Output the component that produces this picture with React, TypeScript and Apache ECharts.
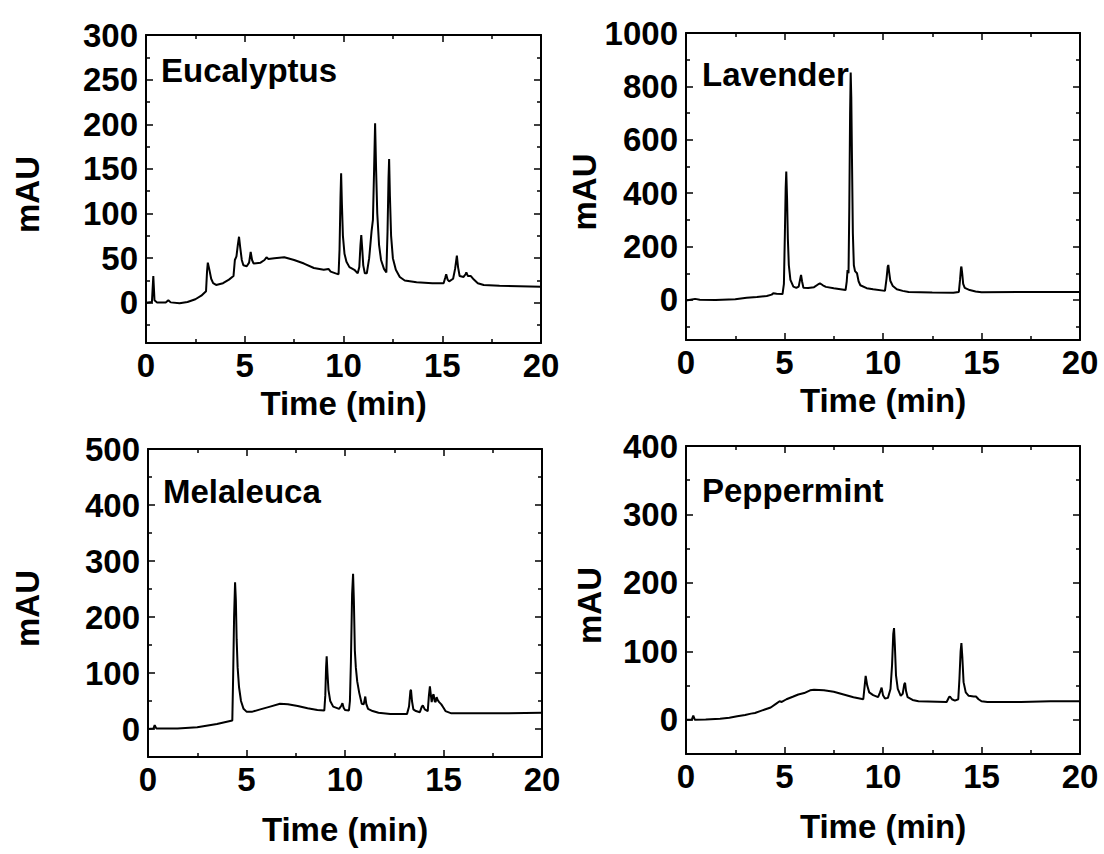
import React, { useEffect, useRef } from "react";
import * as echarts from "echarts";

const panelNames = ["Eucalyptus", "Lavender", "Melaleuca", "Peppermint"];
const yAxisTitle = "mAU";
const xAxisTitle = "Time (min)";

const eucalyptusTime = [0, 0.3, 0.37, 0.43, 0.55, 1.0, 1.13, 1.25, 1.7, 2.1, 2.5, 2.8, 3.04, 3.09, 3.13, 3.2, 3.3, 3.4, 3.55, 3.9, 4.2, 4.43, 4.5, 4.58, 4.65, 4.71, 4.77, 4.85, 4.93, 5.1, 5.22, 5.3, 5.37, 5.45, 5.8, 6.0, 6.1, 6.2, 6.5, 7.0, 7.5, 8.0, 8.5, 9.0, 9.24, 9.35, 9.6, 9.75, 9.8, 9.85, 9.88, 9.92, 9.97, 10.05, 10.15, 10.3, 10.55, 10.72, 10.8, 10.86, 10.9, 10.95, 11.0, 11.08, 11.18, 11.3, 11.42, 11.49, 11.55, 11.6, 11.65, 11.71, 11.8, 11.9, 12.05, 12.17, 12.23, 12.28, 12.31, 12.35, 12.41, 12.5, 12.65, 12.85, 13.1, 13.7, 14.5, 15.07, 15.15, 15.2, 15.27, 15.35, 15.55, 15.65, 15.74, 15.8, 15.88, 16.08, 16.18, 16.22, 16.3, 16.45, 16.6, 16.8, 17.1, 17.9, 20];
const eucalyptusMAU = [0, 1, 30, 3, 0.5, 0.5, 3, 0.5, -0.5, 1, 4, 8, 13, 35, 45, 38, 27, 22, 20, 22, 26, 30, 48, 52, 65, 74, 62, 48, 42, 41, 45, 57, 48, 44, 45, 48, 51, 49, 50, 51, 48, 44, 39, 37, 38, 35, 33, 32, 60, 120, 145, 110, 75, 55, 46, 40, 37, 33, 40, 65, 76, 60, 42, 33, 33, 50, 80, 93, 150, 201, 150, 100, 65, 48, 38, 34, 80, 140, 161, 120, 75, 50, 37, 29, 25, 23, 22, 22, 28, 32, 26, 24, 27, 38, 53, 40, 30, 29, 32, 34, 30, 30, 26, 22, 20, 19, 18];

const lavenderTime = [0, 0.3, 0.46, 0.7, 1.5, 2.5, 3.08, 3.6, 4.1, 4.35, 4.43, 4.6, 4.9, 4.97, 5.02, 5.06, 5.09, 5.13, 5.17, 5.22, 5.3, 5.45, 5.6, 5.72, 5.8, 5.84, 5.89, 5.96, 6.2, 6.5, 6.7, 6.8, 6.95, 7.1, 7.5, 8.1, 8.16, 8.2, 8.25, 8.29, 8.33, 8.36, 8.39, 8.43, 8.47, 8.52, 8.58, 8.68, 8.76, 8.85, 9.17, 9.5, 10.1, 10.18, 10.24, 10.27, 10.31, 10.37, 10.5, 10.7, 11.0, 11.3, 12.5, 13.57, 13.85, 13.91, 13.96, 13.98, 14.02, 14.07, 14.15, 14.4, 14.7, 15.0, 20];
const lavenderMAU = [-2, 2, 4, 1, 0, 3, 8, 11, 15, 20, 25, 23, 22, 60, 250, 420, 481, 380, 230, 130, 75, 50, 45, 50, 80, 94, 70, 46, 45, 48, 58, 62, 55, 49, 44, 37, 70, 112, 100, 350, 700, 852, 760, 500, 250, 130, 108, 100, 70, 55, 44, 40, 34, 80, 125, 131, 105, 72, 52, 40, 34, 30, 28, 27, 30, 75, 120, 125, 100, 60, 45, 37, 32, 29, 30];

const melaleucaTime = [0, 0.28, 0.34, 0.42, 1.5, 2.5, 3.5, 4.28, 4.32, 4.37, 4.42, 4.46, 4.5, 4.55, 4.62, 4.72, 4.85, 5.0, 5.3, 5.7, 6.2, 6.7, 7.1, 7.6, 8.1, 8.6, 8.95, 9.0, 9.04, 9.07, 9.11, 9.16, 9.25, 9.4, 9.7, 9.82, 9.87, 9.93, 10.0, 10.2, 10.25, 10.3, 10.36, 10.41, 10.45, 10.5, 10.55, 10.62, 10.72, 10.85, 10.95, 11.03, 11.08, 11.17, 11.4, 11.7, 12.3, 13.15, 13.25, 13.32, 13.35, 13.4, 13.47, 13.6, 13.8, 13.9, 13.95, 14.05, 14.2, 14.26, 14.31, 14.36, 14.4, 14.46, 14.5, 14.55, 14.6, 14.65, 14.7, 14.78, 14.89, 15.0, 15.1, 15.4, 18.3, 20];
const melaleucaMAU = [0, 1, 7, 1, 1, 3, 9, 15, 90, 200, 262, 230, 160, 110, 75, 50, 36, 31, 31, 35, 40, 45, 44, 41, 37, 34, 33, 60, 110, 130, 100, 70, 50, 40, 36, 42, 46, 38, 34, 33, 50, 120, 240, 277, 230, 140, 110, 85, 65, 45, 44, 58, 45, 36, 32, 29, 27, 27, 40, 68, 70, 50, 35, 32, 30, 40, 42, 35, 32, 60, 76, 60, 48, 60, 62, 50, 48, 57, 52, 48, 44, 38, 32, 28, 28, 29];

const peppermintTime = [0, 0.3, 0.37, 0.45, 1.0, 1.73, 2.2, 2.6, 3.0, 3.3, 3.5, 3.8, 4.0, 4.3, 4.6, 4.75, 4.86, 5.1, 5.45, 5.7, 6.0, 6.3, 6.5, 7.0, 7.5, 8.0, 8.5, 9.0, 9.07, 9.12, 9.2, 9.3, 9.5, 9.75, 9.85, 9.93, 10.0, 10.1, 10.25, 10.38, 10.46, 10.52, 10.56, 10.6, 10.66, 10.75, 10.9, 11.0, 11.08, 11.12, 11.17, 11.25, 11.5, 11.8, 13.23, 13.35, 13.4, 13.5, 13.65, 13.82, 13.88, 13.94, 13.98, 14.03, 14.09, 14.2, 14.35, 14.6, 14.72, 14.85, 15.0, 15.3, 17.0, 18.5, 20];
const peppermintMAU = [0, 0.5, 6, 0, 0.5, 1.5, 3, 5, 7, 9, 10, 13, 15, 18, 24, 27, 26, 30, 34, 37, 39, 43, 44, 43, 41, 37, 33, 30, 50, 64, 50, 40, 36, 33, 40, 47, 36, 31, 32, 45, 80, 125, 134, 110, 65, 45, 35, 38, 52, 54, 42, 33, 29, 27, 26, 33, 34, 30, 28, 30, 60, 100, 112, 90, 55, 40, 35, 34, 34, 30, 27, 26, 26, 27, 27];

const yMins = [-45, -150, -50, -50];
const yMaxs = [300, 1000, 500, 400];
const xMin = 0;
const xMax = 20;

const FONT = "'Liberation Sans', Arial, Helvetica, sans-serif";

export default function App() {
  const ref = useRef<HTMLDivElement>(null);
  useEffect(() => {
    if (!ref.current) return;
    const chart = echarts.init(ref.current, undefined, { renderer: "svg" });
    const grids = [
      { left: 146, top: 35, width: 395, height: 308 },
      { left: 686, top: 33, width: 394, height: 307 },
      { left: 148, top: 449, width: 394, height: 308 },
      { left: 686, top: 446, width: 394, height: 308 },
    ];
    const yNameGaps = [102, 80, 104, 80];
    const xNameGaps = [44, 44, 56, 56];
    const times = [eucalyptusTime, lavenderTime, melaleucaTime, peppermintTime];
    const values = [eucalyptusMAU, lavenderMAU, melaleucaMAU, peppermintMAU];
    const titlePos = [
      { x: 161, y: 70 },
      { x: 702, y: 74 },
      { x: 163, y: 491 },
      { x: 702, y: 490 },
    ];

    const axisLine = { show: true, onZero: false, lineStyle: { color: "#000", width: 2 } };
    const axisTick = { show: true, inside: true, length: 7, lineStyle: { color: "#000", width: 1.5 } };
    const minorTick = { show: true, splitNumber: 2, length: 4, lineStyle: { color: "#000", width: 1.5 } };
    const labelStyle = { color: "#000", fontFamily: FONT, fontWeight: "bold" as const, fontSize: 33 };
    const plain = (v: number) => String(v);

    const xAxes: any[] = [];
    const yAxes: any[] = [];
    const series: any[] = [];
    grids.forEach((g, i) => {
      xAxes.push({
        type: "value", gridIndex: i, position: "bottom", min: xMin, max: xMax,
        axisLine, axisTick, minorTick, splitLine: { show: false },
        axisLabel: { ...labelStyle, margin: 6, showMinLabel: true, showMaxLabel: true, formatter: plain },
        name: xAxisTitle, nameLocation: "middle", nameGap: xNameGaps[i],
        nameTextStyle: { ...labelStyle, fontSize: 33 },
      });
      xAxes.push({
        type: "value", gridIndex: i, position: "top", min: xMin, max: xMax,
        axisLine, axisTick, minorTick, splitLine: { show: false },
        axisLabel: { show: false },
      });
      yAxes.push({
        type: "value", gridIndex: i, position: "left", min: yMins[i], max: yMaxs[i],
        axisLine, axisTick, minorTick, splitLine: { show: false },
        axisLabel: { ...labelStyle, margin: 8, showMinLabel: false, showMaxLabel: true, formatter: plain },
        name: yAxisTitle, nameLocation: "middle", nameGap: yNameGaps[i], nameRotate: 90,
        nameTextStyle: { ...labelStyle, fontSize: 33, padding: [0, 11, 0, 0] },
      });
      yAxes.push({
        type: "value", gridIndex: i, position: "right", min: yMins[i], max: yMaxs[i],
        axisLine, axisTick, minorTick, splitLine: { show: false },
        axisLabel: { show: false },
      });
      series.push({
        type: "line",
        name: panelNames[i],
        xAxisIndex: i * 2,
        yAxisIndex: i * 2,
        showSymbol: false,
        symbol: "none",
        lineStyle: { color: "#000", width: 2 },
        data: times[i].map((t, k) => [t, values[i][k]]),
      });
    });

    chart.setOption({
      animation: false,
      backgroundColor: "#fff",
      grid: grids.map((g) => ({ ...g, containLabel: false })),
      xAxis: xAxes,
      yAxis: yAxes,
      series,
      graphic: panelNames.map((n, i) => ({
        type: "text",
        x: titlePos[i].x,
        y: titlePos[i].y,
        style: {
          text: n,
          fill: "#000",
          font: `bold 33px ${FONT}`,
          verticalAlign: "middle",
          align: "left",
        },
      })),
    });
    return () => chart.dispose();
  }, []);
  return (
    <div
      ref={ref}
      style={{ position: "absolute", left: 0, top: 0, width: 1104, height: 854, background: "#fff" }}
    />
  );
}
